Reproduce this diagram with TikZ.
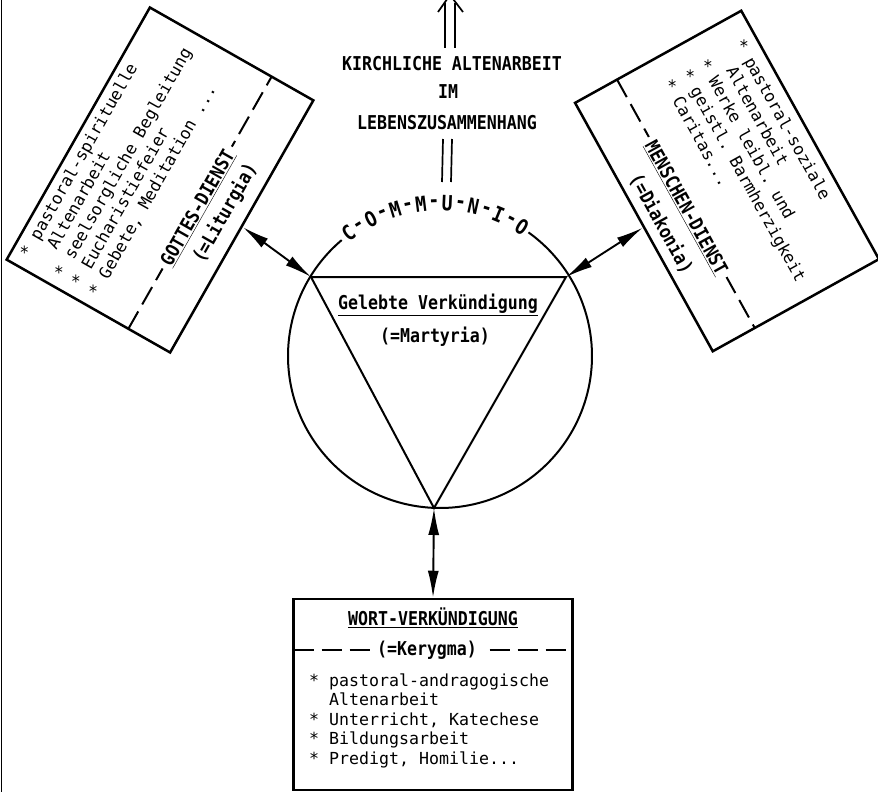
\documentclass[tikz,border=0pt]{standalone}
\usepackage{fontspec}
\usepackage{graphicx}
\setmonofont{DejaVu Sans Mono}
\usetikzlibrary{arrows.meta}
\newcommand{\mfont}{\ttfamily\fontsize{16.6}{20}\selectfont}
\newcommand{\tallt}[1]{\scalebox{1}[1.15]{#1}}
\begin{document}
\begin{tikzpicture}[x=1pt,y=-1pt,
  box/.style={draw, line width=2.5pt, inner sep=0pt, transform shape},
  txt/.style={font=\mfont, inner sep=0pt, transform shape},
  hd/.style={font=\mfont\bfseries, inner sep=0pt, transform shape},
  li/.style={txt, anchor=mid west},
  dline/.style={line width=2pt, dash pattern=on 20pt off 8pt},
  thin/.style={line width=1.7pt},
  arr/.style={line width=1.9pt, {Latex[length=27pt,width=11pt]}-{Latex[length=27pt,width=11pt]}},
  gap/.style={fill=white, inner xsep=5pt, inner ysep=1pt}
]
\fill[white] (0,0) rectangle (878,792);
\useasboundingbox (0,0) rectangle (878,792);
\begin{scope}
\clip (0,0) rectangle (878,792);

% left edge rule
\draw[line width=1.5pt] (1.5,0) -- (1.5,792);

% circle with COMMUNIO
\coordinate (O) at (440,356);
\draw[line width=2pt] (O) ++(-130.3:152) arc[start angle=-130.3, end angle=-414.4, radius=152];
\foreach \ch [count=\i from 0] in {C,-,O,-,M,-,M,-,U,-,N,-,I,-,O} {
  \pgfmathsetmacro\ang{126.8-\i*4.94}
  \node[hd, rotate=\ang-90, scale=1.1] (cm\i) at ({440+153*cos(\ang)},{356-153*sin(\ang)}) {\tallt{\ch}};
}

% triangle
\coordinate (TL) at (311,277);
\coordinate (TR) at (566,277);
\coordinate (TB) at (434,508);
\draw[line width=2pt, line join=miter] (TL) -- (TR) -- (TB) -- cycle;
\draw[line width=2.8pt] (TL) -- (TR);
\node[hd] (gv) at (438,305) {\underline{\tallt{Gelebte Verkündigung}}};
\node[hd] (mart) at (435,337) {\tallt{(=Martyria)}};

% title
\node[hd] (t1) at (452,64) {\tallt{KIRCHLICHE ALTENARBEIT}};
\node[hd] (t2) at (448,92) {\tallt{IM}};
\node[hd] (t3) at (447,123) {\tallt{LEBENSZUSAMMENHANG}};
\coordinate (ua1) at (445,48); \coordinate (ua2) at (445,3);
\coordinate (ub1) at (455,48); \coordinate (ub2) at (455,3);
\draw[thin] (ua1) -- (ua2) (ub1) -- (ub2);
\draw[thin] (438,12) -- (450,-5) -- (463,12);
\coordinate (la1) at (443,139); \coordinate (la2) at (442,182);
\coordinate (lb1) at (452,139); \coordinate (lb2) at (451,182);
\draw[thin] (la1) -- (la2) (lb1) -- (lb2);

% bottom box
\node[box, minimum width=279pt, minimum height=191pt] (BB) at (433,694.5) {};
\draw[dline] (293.5,650) -- (572.5,650);
\node[hd] (wv) at (433,618) {\underline{\tallt{WORT-VERKÜNDIGUNG}}};
\node[hd, gap] (ker) at (427,650) {\tallt{(=Kerygma)}};
\node[li] (b1) at (309,684) {* pastoral-andragogische};
\node[li] (b2) at (329,703.5) {Altenarbeit};
\node[li] (b3) at (309,723) {* Unterricht, Katechese};
\node[li] (b4) at (309,742.5) {* Bildungsarbeit};
\node[li] (b5) at (309,762) {* Predigt, Homilie...};
\draw[arr] (TB) -- (BB.north);

% left box
\begin{scope}[shift={(160,180)}, rotate=60.4]
  \node[box, minimum width=290pt, minimum height=188pt] (LB) at (0,0) {};
  \draw[dline] (-145,46) -- (145,46);
  \node[hd, gap] (gd) at (-5.6,47) {\underline{\tallt{GOTTES-DIENST}}};
  \node[hd] (lit) at (3.4,73) {\tallt{(=Liturgia)}};
  \node[li] (l1) at (-133,-77) {* pastoral-spirituelle};
  \node[li] (l2) at (-113,-57.2) {Altenarbeit};
  \node[li] (l3) at (-133,-37.4) {* seelsorgliche Begleitung};
  \node[li] (l4) at (-133,-17.6) {* Eucharistiefeier};
  \node[li] (l5) at (-133,2.2) {* Gebete, Meditation ...};
\end{scope}

% right box
\begin{scope}[shift={(727,181)}, rotate=-61]
  \node[box, minimum width=284pt, minimum height=190pt] (RB) at (0,0) {};
  \draw[dline] (-142,47) -- (142,47);
  \node[hd, gap] (md) at (3.7,49) {\underline{\tallt{MENSCHEN-DIENST}}};
  \node[hd] (dia) at (5.4,78) {\tallt{(=Diakonia)}};
  \node[li] (r1) at (-117,-75) {* pastoral-soziale};
  \node[li] (r2) at (-97,-54.5) {Altenarbeit};
  \node[li] (r3) at (-117,-34) {* Werke leibl. und};
  \node[li] (r4) at (-117,-13.5) {* geistl. Barmherzigkeit};
  \node[li] (r5) at (-117,7) {* Caritas...};
\end{scope}

\draw[arr] (LB.south) -- (TL);
\draw[arr] (TR) -- (RB.south);
\end{scope}
\end{tikzpicture}
\end{document}
